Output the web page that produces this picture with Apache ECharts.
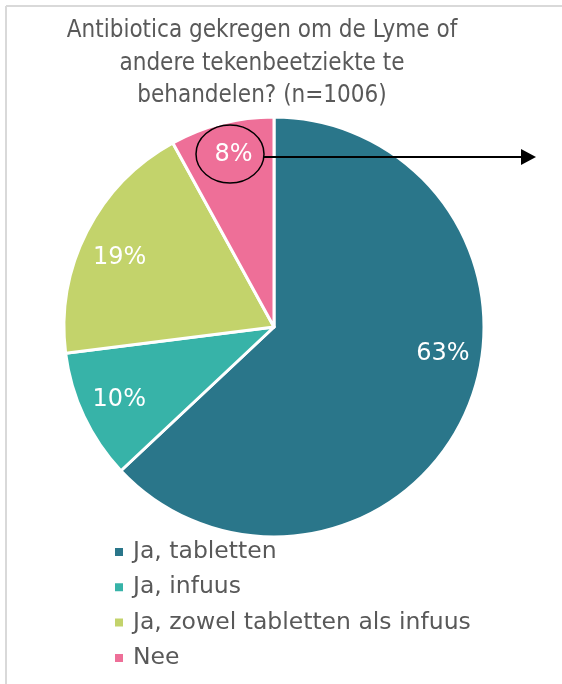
<!DOCTYPE html>
<html>
<head>
<meta charset="utf-8">
<script src="https://cdn.jsdelivr.net/npm/echarts@6/dist/echarts.min.js"></script>
<style>
  html, body { margin: 0; padding: 0; background: #fff; }
  #chart { width: 562px; height: 684px; }
</style>
</head>
<body>
<div id="chart"></div>
<script>
// data
var categories = ["Ja, tabletten", "Ja, infuus", "Ja, zowel tabletten als infuus", "Nee"];
var values = [63, 10, 19, 8];
var colors = ["#2a768a", "#37b3a8", "#c3d36b", "#ee6f98"];
var titleText = "Antibiotica gekregen om de Lyme of\nandere tekenbeetziekte te\nbehandelen? (n=1006)";

var font = "DejaVu Sans";
var el = document.getElementById("chart");
var myChart = echarts.init(el);

var pieData = categories.map(function (c, i) {
    return { name: c, value: values[i], itemStyle: { color: colors[i] } };
});

// labels sit on a transparent ring so they land further out than the default
// small nudges mimic the "best fit" placement of the original
var labelOffsets = [[12, -41], [0, 0], [-2, 8], [2, -7]];
var labelData = categories.map(function (c, i) {
    return { name: c, value: values[i], label: { offset: labelOffsets[i] } };
});

var option = {
    animation: false,
    title: {
        text: titleText,
        left: 262,
        top: 15,
        padding: 0,
        textAlign: "center",
        textStyle: { fontFamily: "DejaVu Sans Condensed", fontSize: 24, fontWeight: "normal", color: "#595959", lineHeight: 32.5 }
    },
    legend: {
        orient: "vertical",
        left: 108,
        top: 535,
        icon: "rect",
        itemWidth: 10,
        itemHeight: 10,
        itemGap: 11.3,
        data: categories,
        textStyle: { fontFamily: font, fontSize: 23.5, color: "#595959", lineHeight: 24, padding: [0, 0, 0, 4] }
    },
    series: [
        {
            type: "pie",
            center: [274, 327],
            radius: 210,
            startAngle: 90,
            clockwise: true,
            label: { show: false },
            labelLine: { show: false },
            emphasis: { disabled: true },
            itemStyle: { borderColor: "#fff", borderWidth: 3 },
            data: pieData
        },
        {
            type: "pie",
            center: [274, 327],
            radius: [126, 210],
            startAngle: 90,
            clockwise: true,
            silent: true,
            legendHoverLink: false,
            itemStyle: { color: "rgba(0,0,0,0)" },
            label: {
                show: true,
                position: "inside",
                formatter: "{c}%",
                color: "#fff",
                fontFamily: font,
                fontSize: 24
            },
            labelLine: { show: false },
            data: labelData
        }
    ],
    graphic: [
        { type: "line", z: 100, shape: { x1: 6, y1: 6, x2: 562, y2: 6 }, style: { stroke: "#d9d9d9", lineWidth: 2 } },
        { type: "line", z: 100, shape: { x1: 6, y1: 6, x2: 6, y2: 684 }, style: { stroke: "#d9d9d9", lineWidth: 2 } },
        // annotation around the 8% label
        { type: "ellipse", z: 100, shape: { cx: 230, cy: 154, rx: 34, ry: 29 }, style: { fill: "none", stroke: "#000", lineWidth: 1.5 } },
        { type: "line", z: 100, shape: { x1: 264, y1: 157, x2: 522, y2: 157 }, style: { stroke: "#000", lineWidth: 2 } },
        { type: "polygon", z: 100, shape: { points: [[521, 149], [536, 157], [521, 165]] }, style: { fill: "#000" } }
    ]
};

myChart.setOption(option);
</script>
</body>
</html>
